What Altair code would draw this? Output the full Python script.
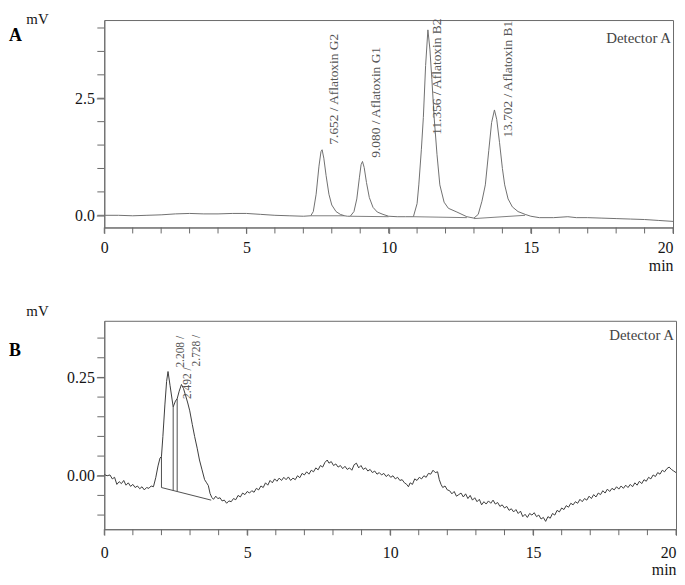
import altair as alt
import pandas as pd

FONT = "Liberation Serif"

# ---------------- Panel A data (time in min, signal in mV) ----------------
top_t = [0.0, 0.5, 1.0, 1.5, 2.0, 2.5, 3.0, 3.5, 4.0, 4.5, 5.0, 5.5, 6.0, 6.5, 7.0,
         7.26, 7.35, 7.45, 7.55, 7.62, 7.66, 7.72, 7.80, 7.90, 8.00, 8.15, 8.30, 8.45,
         8.55, 8.65, 8.78, 8.88, 8.97, 9.03, 9.08, 9.14, 9.22, 9.32, 9.45, 9.60, 9.80, 10.0,
         10.3, 10.6, 10.87, 11.0, 11.06, 11.15, 11.22, 11.30, 11.38, 11.45, 11.52, 11.60,
         11.70, 11.80, 11.95, 12.10, 12.40, 12.75,
         13.0, 13.15, 13.28, 13.40, 13.52, 13.62, 13.72, 13.80, 13.90, 14.00, 14.08, 14.20,
         14.35, 14.55, 14.80, 15.0,
         15.3, 15.8, 16.3, 16.6, 17.0, 17.5, 18.0, 18.5, 19.0, 19.5, 20.0]
top_mv = [0.0, 0.0, -0.01, 0.0, 0.01, 0.03, 0.04, 0.03, 0.03, 0.04, 0.04, 0.02, 0.0, -0.01, -0.02,
          -0.01, 0.08, 0.45, 1.05, 1.36, 1.40, 1.22, 0.85, 0.45, 0.22, 0.08, 0.02, -0.01,
          -0.02, -0.02, 0.08, 0.35, 0.80, 1.08, 1.15, 1.02, 0.70, 0.38, 0.17, 0.07, 0.02, -0.02,
          -0.03, -0.03, -0.03, 0.25, 0.65, 1.40, 2.09, 3.20, 3.96, 3.55, 2.90, 2.09,
          1.30, 0.65, 0.28, 0.15, 0.07, -0.03,
          -0.06, 0.02, 0.30, 0.65, 1.38, 1.98, 2.25, 2.05, 1.55, 1.00, 0.65, 0.35,
          0.18, 0.08, 0.02, -0.02,
          -0.05, -0.05, -0.03, -0.05, -0.05, -0.06, -0.07, -0.08, -0.09, -0.11, -0.13]

# integration baselines (segment id, t, mV)
top_base_id = ["G2", "G2", "G1", "G1", "B2", "B2", "B1", "B1"]
top_base_t = [7.26, 8.45, 8.65, 10.0, 10.87, 12.75, 13.0, 14.8]
top_base_mv = [-0.01, -0.01, -0.02, -0.03, -0.03, -0.05, -0.07, 0.0]

top_labels = ["7.652 / Aflatoxin G2", "9.080 / Aflatoxin G1",
              "11.356 / Aflatoxin B2", "13.702 / Aflatoxin B1"]
top_label_t = [8.08, 9.55, 11.71, 14.2]
top_label_mv = [1.51, 1.23, 1.72, 1.66]

# ---------------- Panel B data ----------------
bot_t = [0.00, 0.10, 0.20, 0.28, 0.36, 0.44, 0.52, 0.60, 0.68, 0.76,
         0.84, 0.92, 1.00, 1.08, 1.16, 1.24, 1.32, 1.40, 1.48, 1.56,
         1.64, 1.72, 1.80, 1.88, 1.95, 2.00, 2.05, 2.12, 2.18, 2.23,
         2.30, 2.37, 2.41, 2.49, 2.55, 2.62, 2.70, 2.77, 2.84, 2.92,
         2.99, 3.08, 3.16, 3.25, 3.33, 3.42, 3.51, 3.58, 3.64, 3.70,
         3.76, 3.82, 3.90, 3.97, 4.05, 4.12, 4.20, 4.28, 4.36, 4.44,
         4.52, 4.60, 4.68, 4.76, 4.84, 4.92, 5.00, 5.08, 5.16, 5.24,
         5.32, 5.40, 5.48, 5.56, 5.64, 5.72, 5.80, 5.88, 5.96, 6.04,
         6.12, 6.20, 6.28, 6.36, 6.44, 6.52, 6.60, 6.68, 6.76, 6.84,
         6.92, 7.00, 7.08, 7.16, 7.24, 7.32, 7.40, 7.48, 7.56, 7.64,
         7.72, 7.80, 7.86, 7.94, 8.02, 8.10, 8.18, 8.26, 8.34, 8.42,
         8.50, 8.58, 8.66, 8.74, 8.82, 8.90, 8.98, 9.06, 9.14, 9.22,
         9.30, 9.38, 9.46, 9.54, 9.62, 9.70, 9.78, 9.86, 9.94, 10.02,
         10.10, 10.18, 10.26, 10.34, 10.42, 10.50, 10.58, 10.64, 10.70, 10.78,
         10.86, 10.94, 11.02, 11.10, 11.18, 11.26, 11.34, 11.42, 11.50, 11.58,
         11.66, 11.72, 11.78, 11.84, 11.92, 12.00, 12.08, 12.16, 12.24, 12.32,
         12.40, 12.48, 12.56, 12.64, 12.72, 12.80, 12.88, 12.96, 13.04, 13.12,
         13.20, 13.28, 13.36, 13.44, 13.52, 13.60, 13.68, 13.76, 13.84, 13.92,
         14.00, 14.08, 14.16, 14.24, 14.32, 14.40, 14.48, 14.56, 14.64, 14.72,
         14.80, 14.88, 14.96, 15.04, 15.12, 15.20, 15.28, 15.36, 15.44, 15.52,
         15.60, 15.68, 15.76, 15.84, 15.92, 16.00, 16.08, 16.16, 16.24, 16.32,
         16.40, 16.48, 16.56, 16.64, 16.72, 16.80, 16.88, 16.96, 17.04, 17.12,
         17.20, 17.28, 17.36, 17.44, 17.52, 17.60, 17.68, 17.76, 17.84, 17.92,
         18.00, 18.08, 18.16, 18.24, 18.32, 18.40, 18.48, 18.56, 18.64, 18.72,
         18.80, 18.88, 18.96, 19.04, 19.12, 19.20, 19.28, 19.36, 19.44, 19.52,
         19.60, 19.68, 19.76, 19.84, 19.92, 20.00]
bot_mv = [0.003, 0.000, 0.002, -0.008, -0.004, -0.022, -0.015, -0.020, -0.012, -0.024,
          -0.018, -0.027, -0.022, -0.030, -0.026, -0.033, -0.028, -0.036, -0.030, -0.032,
          -0.026, -0.028, -0.005, 0.025, 0.045, 0.049, 0.10, 0.18, 0.24, 0.265,
          0.23, 0.195, 0.175, 0.19, 0.196, 0.215, 0.232, 0.222, 0.205, 0.185,
          0.165, 0.13, 0.10, 0.07, 0.04, 0.015, -0.010, -0.018, -0.025, -0.045,
          -0.055, -0.060, -0.052, -0.058, -0.056, -0.064, -0.062, -0.070, -0.064, -0.066,
          -0.058, -0.061, -0.050, -0.054, -0.044, -0.048, -0.040, -0.044, -0.038, -0.042,
          -0.032, -0.036, -0.026, -0.030, -0.018, -0.024, -0.012, -0.018, -0.008, -0.014,
          -0.006, -0.012, -0.004, -0.010, -0.003, -0.012, -0.006, -0.010, 0.000, -0.005,
          0.006, 0.002, 0.010, 0.004, 0.014, 0.010, 0.020, 0.015, 0.026, 0.022,
          0.034, 0.040, 0.032, 0.036, 0.026, 0.030, 0.022, 0.026, 0.018, 0.024,
          0.016, 0.020, 0.014, 0.028, 0.032, 0.020, 0.026, 0.016, 0.020, 0.012,
          0.016, 0.008, 0.012, 0.004, 0.008, 0.002, 0.006, -0.002, 0.003, -0.004,
          0.000, -0.008, -0.004, -0.012, -0.010, -0.018, -0.022, -0.028, -0.018, -0.022,
          -0.008, -0.012, -0.004, -0.008, 0.000, -0.004, 0.006, 0.004, 0.014, 0.008,
          0.010, -0.010, -0.022, -0.030, -0.026, -0.036, -0.038, -0.046, -0.040, -0.052,
          -0.048, -0.044, -0.054, -0.046, -0.058, -0.050, -0.062, -0.056, -0.066, -0.060,
          -0.074, -0.066, -0.072, -0.064, -0.070, -0.062, -0.072, -0.068, -0.078, -0.074,
          -0.082, -0.078, -0.088, -0.084, -0.092, -0.086, -0.096, -0.090, -0.104, -0.098,
          -0.106, -0.096, -0.100, -0.094, -0.104, -0.100, -0.110, -0.106, -0.116, -0.104,
          -0.108, -0.096, -0.100, -0.088, -0.092, -0.082, -0.086, -0.076, -0.080, -0.070,
          -0.074, -0.066, -0.070, -0.060, -0.066, -0.058, -0.062, -0.052, -0.058, -0.048,
          -0.054, -0.044, -0.048, -0.038, -0.044, -0.034, -0.040, -0.032, -0.036, -0.028,
          -0.034, -0.026, -0.032, -0.024, -0.030, -0.022, -0.028, -0.018, -0.024, -0.014,
          -0.020, -0.010, -0.014, -0.004, -0.008, 0.002, -0.002, 0.008, 0.004, 0.014,
          0.010, 0.018, 0.022, 0.016, 0.012, 0.008]

bot_seg_id = ["base", "base", "d1", "d1", "d2", "d2", "d3", "d3"]
bot_seg_t = [2.00, 3.74, 2.00, 2.00, 2.41, 2.41, 2.55, 2.55]
bot_seg_mv = [-0.030, -0.062, 0.049, -0.030, 0.175, -0.037, 0.196, -0.039]

bot_labels = ["2.208 /", "2.492 /", "2.728 /"]
bot_label_t = [2.67, 2.92, 3.24]
bot_label_mv = [0.275, 0.195, 0.278]

# axis ticks: labelled ones and all (minor) ones
top_major = [0.0, 2.5]
top_minor = [0.0, 0.5, 1.0, 1.5, 2.0, 2.5, 3.0, 3.5, 4.0]
bot_major = [0.0, 0.25]
bot_minor = [-0.10, -0.05, 0.0, 0.05, 0.10, 0.15, 0.20, 0.25, 0.30, 0.35]
x_major = [0, 5, 10, 15, 20]
x_minor = list(range(0, 21))

AX = "#6a6a6a"
TXT = "#151515"


def x_axis(pad, title_y, w):
    return alt.Axis(values=x_major, labelOverlap=False,
                    labelAlign={"condition": {"test": "datum.value == 20", "value": "right"},
                                "value": "center"},
                    title="min", titleX=w, titleAlign="right", titleY=title_y,
                    titleBaseline="alphabetic", titleFont=FONT, titleFontSize=16,
                    titleFontWeight="normal", titleColor=TXT,
                    labelFont=FONT, labelFontSize=16, labelColor=TXT, labelPadding=pad,
                    labelBaseline="top",
                    tickSize=6, tickColor=AX, domainColor=AX, grid=False)


def y_axis(values, fmt, title_y):
    return alt.Axis(values=values, format=fmt, labelOverlap=False,
                    title="mV", titleAngle=0, titleX=-79, titleY=title_y, titleAlign="left",
                    titleBaseline="alphabetic", titleFont=FONT, titleFontSize=15,
                    titleFontWeight="normal", titleColor=TXT,
                    labelFont=FONT, labelFontSize=16, labelColor=TXT, labelPadding=2,
                    tickSize=8, tickColor=AX, domainColor=AX, grid=False)


def panel(trace_t, trace_mv, seg_id, seg_t, seg_mv, lab, lab_t, lab_mv,
          ydom, ymajor, yminor, yfmt, ytitle_y, w, h, letter, letter_y, det_y, xpad,
          xtitle_y, trace_color, label_size, label_color):
    xs = alt.Scale(domain=[0, 20], nice=False, zero=False)
    ys = alt.Scale(domain=ydom, nice=False, zero=False)
    xa = x_axis(xpad, xtitle_y, w)
    ya = y_axis(ymajor, yfmt, ytitle_y)

    trace = alt.Chart(pd.DataFrame({"t": trace_t, "mv": trace_mv})).mark_line(
        color=trace_color, strokeWidth=1, clip=True).encode(
        x=alt.X("t:Q", scale=xs, axis=xa),
        y=alt.Y("mv:Q", scale=ys, axis=ya),
        order="t:Q")
    segs = alt.Chart(pd.DataFrame({"id": seg_id, "t": seg_t, "mv": seg_mv})).mark_line(
        color=trace_color, strokeWidth=0.9, clip=True).encode(
        x=alt.X("t:Q", scale=xs), y=alt.Y("mv:Q", scale=ys), detail="id:N")
    xticks = alt.Chart(pd.DataFrame({"t": x_minor})).mark_rule(
        color=AX, strokeWidth=1).encode(
        x=alt.X("t:Q", scale=xs), y=alt.value(h), y2=alt.value(h + 6))
    yticks = alt.Chart(pd.DataFrame({"mv": yminor})).mark_rule(
        color=AX, strokeWidth=1).encode(
        y=alt.Y("mv:Q", scale=ys), x=alt.value(-7), x2=alt.value(0))
    labels = alt.Chart(pd.DataFrame({"lab": lab, "t": lab_t, "mv": lab_mv})).mark_text(
        angle=270, align="left", baseline="middle", font=FONT, fontSize=label_size,
        color=label_color).encode(
        x=alt.X("t:Q", scale=xs), y=alt.Y("mv:Q", scale=ys), text="lab:N")
    det = alt.Chart(pd.DataFrame({"s": ["Detector A"]})).mark_text(
        align="right", baseline="middle", font=FONT, fontSize=15, color="#444444").encode(
        x=alt.value(w - 2), y=alt.value(det_y), text="s:N")
    let = alt.Chart(pd.DataFrame({"s": [letter]})).mark_text(
        align="left", baseline="middle", font=FONT, fontSize=18, fontWeight="bold",
        color="#000000").encode(
        x=alt.value(-96), y=alt.value(letter_y), text="s:N")
    return alt.layer(segs, trace, xticks, yticks, labels, det, let).properties(width=w, height=h)


top = panel(top_t, top_mv, top_base_id, top_base_t, top_base_mv,
            top_labels, top_label_t, top_label_mv,
            [-0.26, 4.17], top_major, top_minor, ".1f", 3,
            573, 209, "A", 16, 18, 6, 43, "#707070", 13.5, "#555555")

bottom = panel(bot_t, bot_mv, bot_seg_id, bot_seg_t, bot_seg_mv,
               bot_labels, bot_label_t, bot_label_mv,
               [-0.136, 0.394], bot_major, bot_minor, ".2f", -5,
               576, 210, "B", 30, 14, 9, 46, "#3c3c3c", 11.5, "#555555")

chart = alt.vconcat(top, bottom, spacing=29).properties(
    padding={"left": 0, "top": 0, "right": 0, "bottom": -4},
    background="white"
).configure_view(stroke=AX, strokeWidth=1)

chart.save("out.html", embed_options={"renderer": "svg", "actions": False})
